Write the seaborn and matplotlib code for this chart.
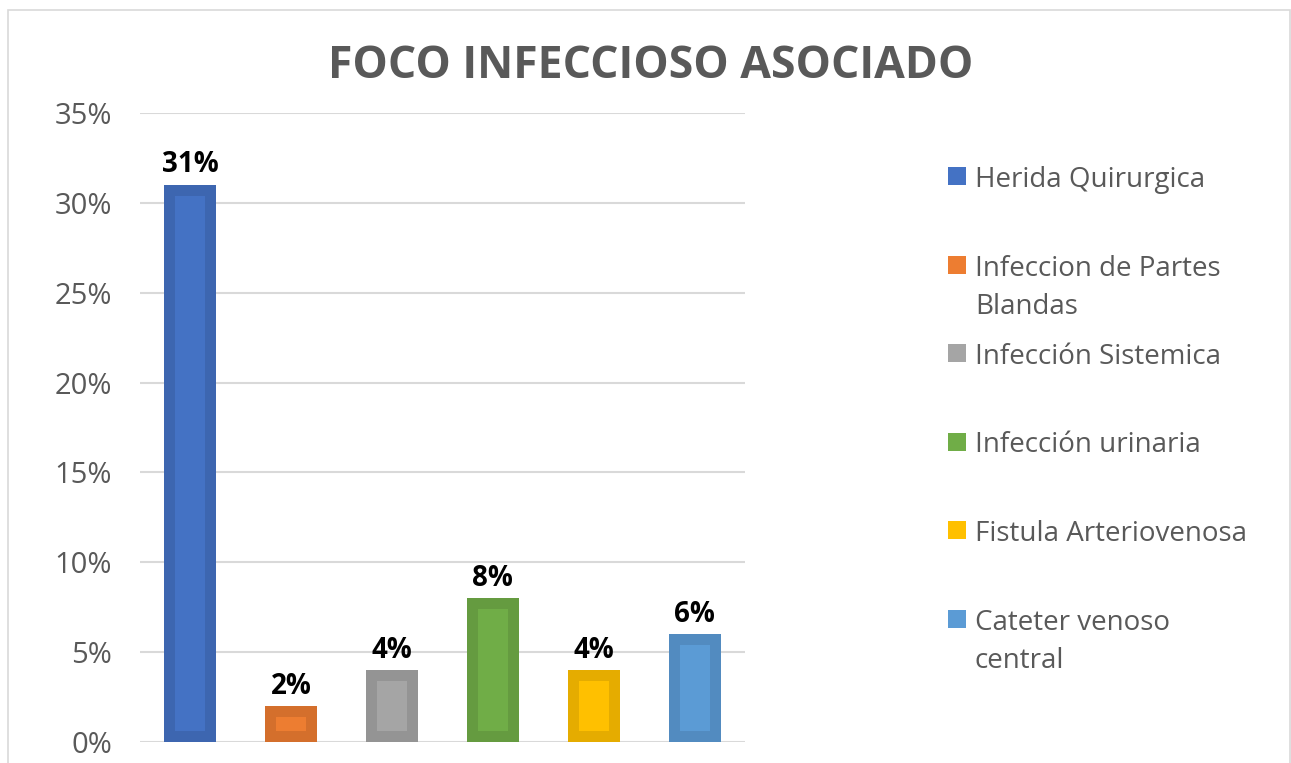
import textwrap
import matplotlib
matplotlib.use("Agg")
import matplotlib.pyplot as plt
import seaborn as sns
import pandas as pd
from matplotlib.patches import Rectangle

categories = ["Herida Quirurgica", "Infeccion de Partes Blandas", "Infección Sistemica",
              "Infección urinaria", "Fistula Arteriovenosa", "Cateter venoso central"]
values = [0.31, 0.02, 0.04, 0.08, 0.04, 0.06]
y_ticks = [0, 0.05, 0.10, 0.15, 0.20, 0.25, 0.30, 0.35]
title = "FOCO INFECCIOSO ASOCIADO"

fill_colors = ["#4472C4", "#ED7D31", "#A5A5A5", "#70AD47", "#FFC000", "#5B9BD5"]
edge_colors = ["#3D66B0", "#D46F2C", "#949494", "#659B40", "#E5AC00", "#528BC0"]

sns.set_theme(style="white")
plt.rcParams["font.family"] = ["Open Sans", "DejaVu Sans"]

W, H = 1291, 763
fig = plt.figure(figsize=(W / 100, H / 100), dpi=100)
ax = fig.add_axes([140 / W, 1 - 742 / H, (745 - 140) / W, (742 - 113) / H])

df = pd.DataFrame({"cat": categories, "val": values})
sns.barplot(data=df, x="cat", y="val", hue="cat", palette=fill_colors, width=0.515,
            legend=False, ax=ax, saturation=1, linewidth=0)

for i, cont in enumerate(ax.containers):
    for p in cont:
        p.set_edgecolor(edge_colors[i])
        p.set_linewidth(15.8)
        p.set_clip_path(p)
        p.set_zorder(3)
    ax.bar_label(cont, labels=[f"{values[i]:.0%}"], padding=4, fontsize=20,
                 fontweight="bold", color="black")

ax.set_ylim(0, 0.35)
ax.set_xlim(-0.5, len(categories) - 0.5)
ax.set_yticks(y_ticks)
ax.set_yticklabels([f"{t:.0%}" for t in y_ticks])
ax.set_xticks([])
ax.set_xlabel("")
ax.set_ylabel("")
ax.tick_params(axis="y", length=0, pad=20, labelsize=21, labelcolor="#595959")
for s in ax.spines.values():
    s.set_visible(False)
ax.grid(axis="y", color="#D9D9D9", linewidth=1.5, zorder=0)
ax.set_axisbelow(True)

fig.text(651 / W, 1 - 78 / H, title, ha="center", va="baseline", fontsize=32,
         fontweight="bold", color="#595959")

# legend drawn manually
first_baseline = 186
step = 88.5
for i, cat in enumerate(categories):
    yb = first_baseline + i * step
    fig.patches.append(Rectangle((948 / W, 1 - (yb - 1) / H), 18 / W, 18 / H,
                                 transform=fig.transFigure, facecolor=fill_colors[i],
                                 edgecolor="none"))
    fig.text(975 / W, 1 - (yb - 20) / H, textwrap.fill(cat, 21), ha="left", va="top",
             fontsize=20, color="#595959", linespacing=1.5)

fig.patches.append(Rectangle((8 / W, -0.05), (1290 - 8) / W, 1 - 10 / H + 0.05,
                             transform=fig.transFigure, facecolor="none",
                             edgecolor="#D9D9D9", linewidth=1.2))

fig.savefig("out.png", dpi=100, facecolor="white")
